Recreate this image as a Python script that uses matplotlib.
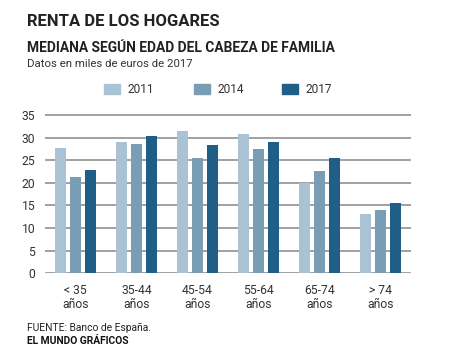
import matplotlib
matplotlib.use("Agg")
import matplotlib.pyplot as plt
import numpy as np

plt.rcParams['font.family'] = ['Roboto', 'DejaVu Sans']

categories = ["< 35\naños", "35-44\naños", "45-54\naños", "55-64\naños", "65-74\naños", "> 74\naños"]
series_names = ["2011", "2014", "2017"]
v2011 = [27.6, 29.1, 31.5, 30.7, 20.0, 13.1]
v2014 = [21.2, 28.5, 25.4, 27.5, 22.7, 14.0]
v2017 = [22.8, 30.3, 28.4, 29.0, 25.5, 15.5]
yticks = [0, 5, 10, 15, 20, 25, 30, 35]
colors = ["#a9c3d4", "#7a9db6", "#1f5e86"]

W, H = 470, 353
fig = plt.figure(figsize=(W / 100, H / 100), dpi=100)
ax_bottom = (H - 273.3) / H
unit_px = 158.3 / 35
ax_h = unit_px * 35.6 / H
ax = fig.add_axes([45 / W, ax_bottom, 366 / W, ax_h])

x = np.arange(len(categories))
offs = [-0.246, 0, 0.246]
bw = 0.172
for vals, off, c in zip([v2011, v2014, v2017], offs, colors):
    ax.bar(x + off, vals, width=bw, color=c, zorder=3)

ax.set_xlim(-0.5, 5.5)
ax.set_ylim(0, 35.6)
for t in yticks:
    ax.axhline(t, color="#9a9a9a", lw=1.3, zorder=1)
for s in ax.spines.values():
    s.set_visible(False)
ax.set_yticks(yticks)
ax.set_yticklabels([str(t) for t in yticks], fontsize=8.7, color="#333333")
ax.set_xticks(x)
ax.set_xticklabels(categories, fontsize=8.7, color="#333333", linespacing=1.1)
ax.tick_params(axis="both", length=0)
ax.tick_params(axis="y", pad=7)
ax.tick_params(axis="x", pad=8)

# titles
fig.text(27 / W, 1 - 21 / H, "RENTA DE LOS HOGARES", fontsize=12, fontweight="bold",
         color="#222222", va="center", ha="left")
fig.text(27 / W, 1 - 47.5 / H, "MEDIANA SEGÚN EDAD DEL CABEZA DE FAMILIA", fontsize=9.9,
         fontweight="bold", color="#222222", va="center", ha="left")
fig.text(27 / W, 1 - 64 / H, "Datos en miles de euros de 2017", fontsize=8.2,
         color="#333333", va="center", ha="left")

# legend
leg_x = [104, 193.5, 282]
for lx, c, name in zip(leg_x, colors, series_names):
    fig.patches.append(plt.Rectangle((lx / W, 1 - 94.3 / H), 16 / W, 10 / H,
                                     transform=fig.transFigure, color=c))
    fig.text((lx + 23.5) / W, 1 - 89.3 / H, name, fontsize=8.6, color="#333333",
             va="center", ha="left")

fig.text(27 / W, 1 - 327.5 / H, "FUENTE: Banco de España.", fontsize=7.4,
         color="#222222", va="center", ha="left")
fig.text(27 / W, 1 - 340.5 / H, "EL MUNDO GRÁFICOS", fontsize=7.4, fontweight="bold",
         color="#111111", va="center", ha="left")

fig.savefig("out.png", dpi=100)
